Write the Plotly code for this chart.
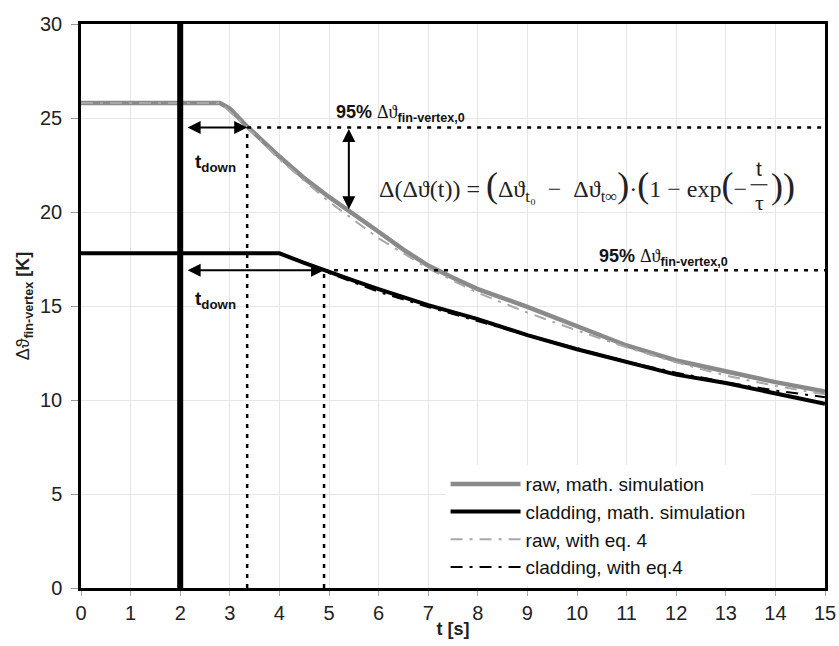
import plotly.graph_objects as go

# ---------------- data ----------------
t_raw_sim = [0, 2.8, 3.0, 3.35, 4, 4.5, 5, 5.5, 6, 6.5, 7, 7.5, 8, 9, 10, 11, 12, 13, 14, 15]
v_raw_sim = [25.8, 25.8, 25.5, 24.55, 22.95, 21.8, 20.8, 19.9, 18.95, 18.0, 17.15, 16.5, 15.9,
             14.95, 13.95, 12.9, 12.1, 11.5, 10.95, 10.45]

t_clad_sim = [0, 4.0, 4.5, 4.9, 5.5, 6, 7, 8, 9, 10, 11, 12, 13, 14, 15]
v_clad_sim = [17.8, 17.8, 17.3, 16.9, 16.35, 15.9, 15.05, 14.3, 13.45, 12.7, 12.0, 11.35, 10.9, 10.35, 9.8]

t_raw_eq4 = [0, 2.8, 3.35, 4, 5, 6, 7, 8, 9, 10, 11, 12, 13, 14, 15]
v_raw_eq4 = [25.8, 25.8, 24.5, 22.8, 20.55, 18.6, 17.0, 15.7, 14.65, 13.7, 12.8, 12.0, 11.3, 10.75, 10.3]

t_clad_eq4 = [0, 4.0, 4.9, 6, 7, 8, 9, 10, 11, 12, 13, 14, 15]
v_clad_eq4 = [17.8, 17.8, 16.85, 15.75, 14.95, 14.2, 13.45, 12.75, 12.05, 11.45, 10.95, 10.5, 10.15]

series_names = ["raw, math. simulation", "cladding, math. simulation",
                "raw, with eq. 4", "cladding, with eq.4"]

t_switch = 2.0             # switching time (thick vertical line)
raw_95 = 24.5              # 95 % level raw
clad_95 = 16.9             # 95 % level cladding
t_raw_down = 3.35          # time at which raw reaches 95 %
t_clad_down = 4.9          # time at which cladding reaches 95 %
t_dd_arrow = 5.4           # position of vertical Δ(Δϑ) arrow
v_dd_arrow_low = 20.15

x_ticks = list(range(0, 16))
y_ticks = [0, 5, 10, 15, 20, 25, 30]

FONT = "Liberation Sans, Arial, sans-serif"
SERIF = "Liberation Serif, Times New Roman, serif"

fig = go.Figure()
fig.add_trace(go.Scatter(x=t_raw_sim, y=v_raw_sim, mode="lines", name=series_names[0],
                         line=dict(color="#8a8a8a", width=4.5)))
fig.add_trace(go.Scatter(x=t_clad_sim, y=v_clad_sim, mode="lines", name=series_names[1],
                         line=dict(color="#000000", width=4)))
fig.add_trace(go.Scatter(x=t_raw_eq4, y=v_raw_eq4, mode="lines", name=series_names[2],
                         line=dict(color="#a8a8a8", width=2, dash="12px,7px,3px,7px")))
fig.add_trace(go.Scatter(x=t_clad_eq4, y=v_clad_eq4, mode="lines", name=series_names[3],
                         line=dict(color="#000000", width=2, dash="12px,7px,3px,7px")))

shapes = []
shapes.append(dict(type="line", xref="x", yref="y", x0=t_switch, x1=t_switch, y0=0, y1=30,
                   line=dict(color="black", width=6)))
dot = dict(color="black", width=2.5, dash="4px,6px")
shapes += [
    dict(type="line", xref="x", yref="y", x0=t_raw_down, x1=15, y0=raw_95, y1=raw_95, line=dot),
    dict(type="line", xref="x", yref="y", x0=t_raw_down, x1=t_raw_down, y0=0, y1=raw_95, line=dot),
    dict(type="line", xref="x", yref="y", x0=t_clad_down, x1=15, y0=clad_95, y1=clad_95, line=dot),
    dict(type="line", xref="x", yref="y", x0=t_clad_down, x1=t_clad_down, y0=0, y1=clad_95, line=dot),
]
# fraction bar
shapes.append(dict(type="line", xref="x", yref="y", x0=13.5, x1=13.84, y0=21.45, y1=21.45,
                   line=dict(color="#222", width=1.2)))

ann = []
def darrow(x0, y0, x1, y1):
    ann.append(dict(x=x1, y=y1, ax=x0, ay=y0, xref="x", yref="y", axref="x", ayref="y",
                    text="", showarrow=True, arrowhead=2, arrowsize=1.3, arrowwidth=2,
                    arrowside="end+start", arrowcolor="black", startarrowhead=2, startarrowsize=1.3))

darrow(t_switch + 0.12, raw_95, t_raw_down, raw_95)
darrow(t_switch + 0.12, clad_95, t_clad_down, clad_95)
darrow(t_dd_arrow, raw_95, t_dd_arrow, v_dd_arrow_low)

ann.append(dict(x=2.72, y=22.6, xref="x", yref="y", showarrow=False,
                text="<b>t<sub>down</sub></b>", font=dict(family=FONT, size=19, color="#111")))
ann.append(dict(x=2.72, y=15.3, xref="x", yref="y", showarrow=False,
                text="<b>t<sub>down</sub></b>", font=dict(family=FONT, size=19, color="#111")))
lbl95 = "<b>95%</b> <span style='font-family:Liberation Serif'>Δϑ</span><sub><b>fin-vertex,0</b></sub>"
ann.append(dict(x=6.45, y=25.25, xref="x", yref="y", showarrow=False, text=lbl95,
                font=dict(family=FONT, size=18, color="#111")))
ann.append(dict(x=11.75, y=17.6, xref="x", yref="y", showarrow=False, text=lbl95,
                font=dict(family=FONT, size=18, color="#111")))

BIG = "<span style='font-size:36px'>"
formula = ("Δ(Δϑ(t)) = " + BIG + "(</span>Δϑ<sub>t₀</sub>  −  Δϑ<sub>t∞</sub>" + BIG + ")</span>·"
           + BIG + "(</span>1 − exp" + BIG + "(</span>−")
ann.append(dict(x=13.47, y=21.4, xref="x", yref="y", xanchor="right", showarrow=False,
                text=formula, font=dict(family=SERIF, size=24, color="#222")))
ann.append(dict(x=13.67, y=22.3, xref="x", yref="y", showarrow=False, text="t",
                font=dict(family=FONT, size=21, color="#222")))
ann.append(dict(x=13.67, y=20.5, xref="x", yref="y", showarrow=False, text="τ",
                font=dict(family=SERIF, size=22, color="#222")))
ann.append(dict(x=13.87, y=21.4, xref="x", yref="y", xanchor="left", showarrow=False,
                text=BIG + "))</span>", font=dict(family=SERIF, size=24, color="#222")))

fig.update_layout(
    width=839, height=646,
    margin=dict(l=81, r=14, t=24, b=58, autoexpand=False),
    paper_bgcolor="white", plot_bgcolor="white",
    font=dict(family=FONT, size=17, color="#222"),
    shapes=shapes, annotations=ann,
    showlegend=True,
    legend=dict(x=0.49, y=0.218, xanchor="left", yanchor="top", bgcolor="white",
                borderwidth=0, font=dict(family=FONT, size=19, color="#111"),
                itemwidth=70, tracegroupgap=0),
)
fig.update_xaxes(range=[0, 15], tickvals=x_ticks, ticktext=[str(v) for v in x_ticks],
                 automargin=False,
                 showgrid=True, gridcolor="#e6e6e6", gridwidth=1,
                 showline=True, linecolor="black", linewidth=2.5, mirror=True,
                 ticks="outside", ticklen=5, tickcolor="#aaa", zeroline=False,
                 tickfont=dict(size=20, color="#222"),
                 title=dict(text="<b>t [s]</b>", standoff=0, font=dict(size=18)))
fig.update_yaxes(range=[0, 30], tickvals=y_ticks, ticktext=[str(v) for v in y_ticks],
                 automargin=False, ticklabelstandoff=5,
                 showgrid=True, gridcolor="#e6e6e6", gridwidth=1,
                 showline=True, linecolor="black", linewidth=2.5, mirror=True,
                 ticks="outside", ticklen=7, tickcolor="#999", zeroline=False,
                 tickfont=dict(size=20, color="#222"),
                 title=dict(text="Δϑ<sub><b>fin-vertex</b></sub> <b>[K]</b>", standoff=6,
                            font=dict(size=18)))

fig.write_html("out.html")
